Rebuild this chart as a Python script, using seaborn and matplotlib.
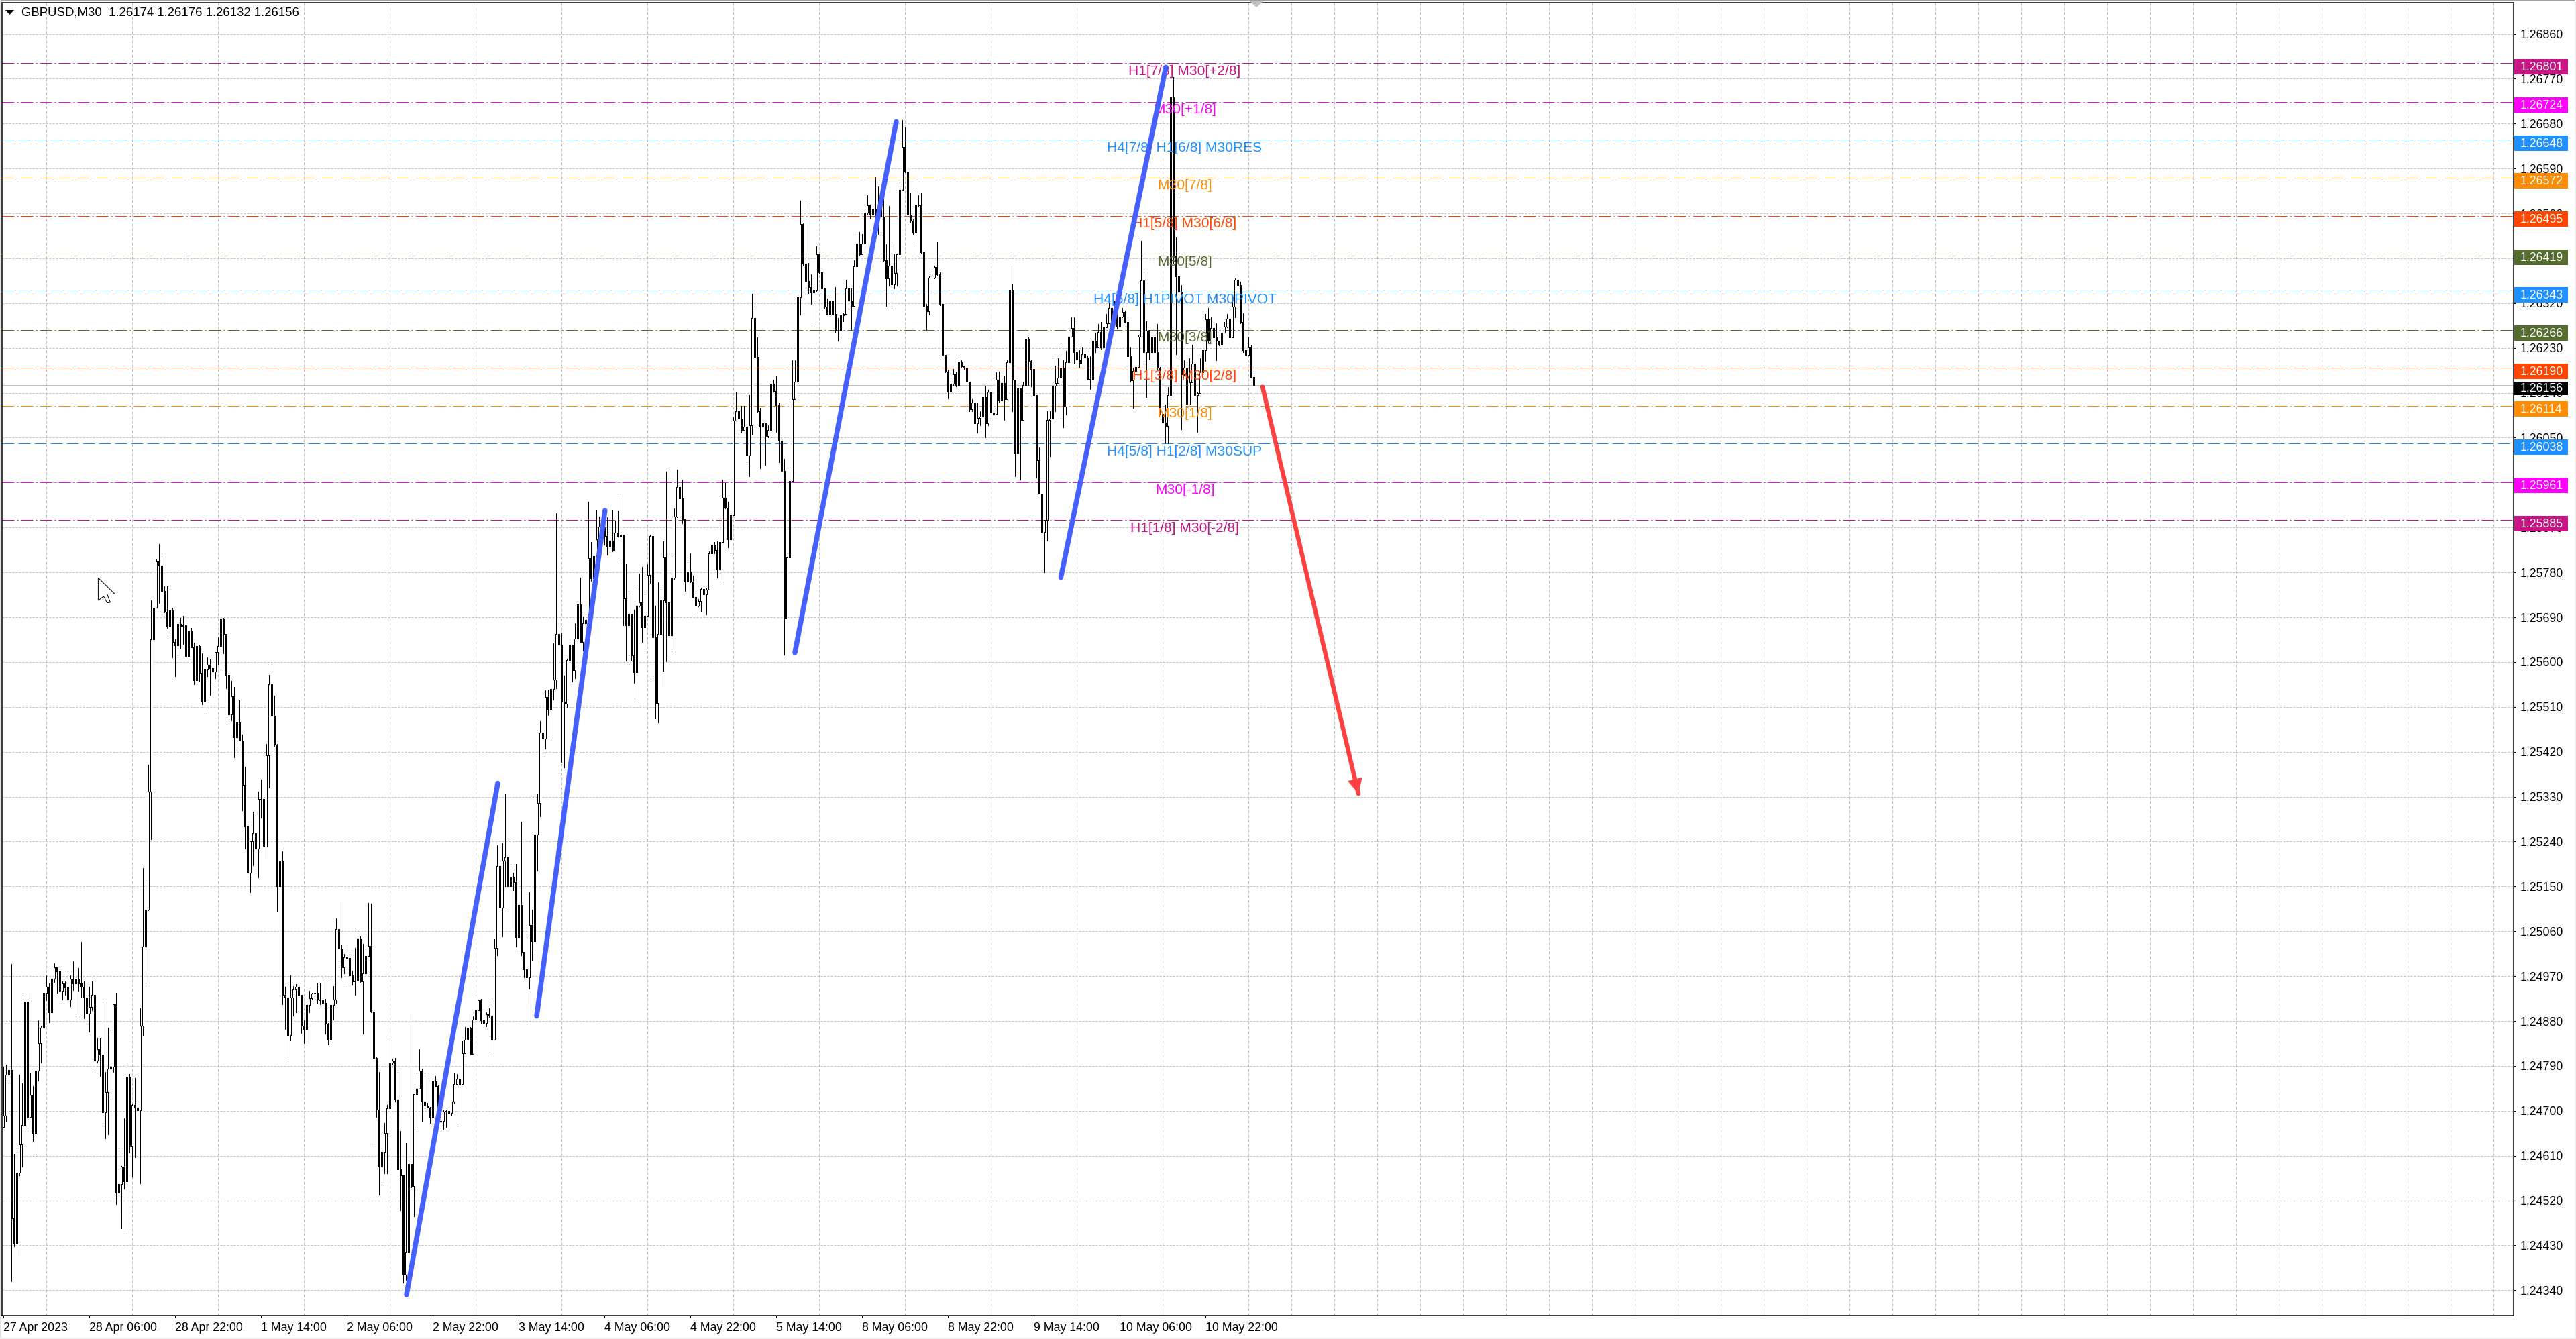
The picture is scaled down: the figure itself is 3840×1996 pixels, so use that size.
import pandas as pd
import numpy as np
import matplotlib
matplotlib.use('Agg')
import matplotlib.pyplot as plt
import seaborn as sns
from matplotlib.patches import Polygon, Rectangle
from matplotlib.transforms import IdentityTransform

# candles, in points (0.00001) above 1.24000
first_open = 667
closes = [
    690,773,782,484,433,576,633,672,919,688, 732,655,780,835,867,936,949,897,965,988,
    979,940,955,947,923,965,956,965,955,949, 927,895,908,933,800,824,813,697,738,784,
    788,914,536,553,588,558,768,628,712,706, 701,871,1029,1103,1340,1645,1709,1802,1793,1742,
    1701,1671,1704,1640,1634,1676,1673,1674,1612,1662, 1630,1564,1632,1579,1520,1586,1595,1588,1581,1620,
    1632,1687,1657,1575,1495,1531,1449,1479,1443,1354, 1270,1177,1241,1257,1226,1325,1326,1230,1413,1555,
    1492,1435,1151,1202,932,927,852,927,943,949, 932,870,864,913,926,935,936,923,922,917,
    875,842,913,923,1065,1026,988,1008,1007,972, 960,961,1045,959,976,1010,1031,899,806,703,
    588,617,655,705,796,801,722,583,571,372, 416,593,549,734,744,780,719,710,707,688,
    759,750,678,680,698,700,696,719,754,765, 754,816,842,867,814,883,901,922,881,876,
    894,891,842,1027,1191,1108,1202,1209,1150,1170, 1158,1048,1113,1018,983,968,1072,1040,1254,1318,
    1458,1447,1530,1506,1546,1565,1656,1635,1521,1517, 1604,1635,1584,1647,1715,1640,1678,1685,1809,1768,
    1812,1846,1872,1870,1853,1832,1844,1823,1860,1853, 1856,1728,1674,1697,1614,1580,1713,1719,1670,1693,
    1775,1853,1650,1518,1656,1724,1810,1720,1654,1770, 1892,1951,1928,1887,1761,1781,1761,1731,1713,1722,
    1746,1736,1745,1818,1836,1825,1786,1841,1930,1910, 1846,1895,2084,2103,2089,2065,2072,2015,2075,2290,
    2212,2103,2072,2079,2054,2065,2158,2144,2115,2044, 1984,1688,1810,1963,2128,2162,2332,2478,2399,2364,
    2352,
    2341,2345,2418,2381,2350,2313,2298,2325,2298,2265, 2265,2295,2298,2350,2325,2314,2394,2439,2418,2439,
    2501,2516,2497,2508,2490,2508,2494,2406,2369,2395, 2357,2380,
    2418,2547,2633,2584,2497,2485,2462,2518,2516,
    2422,2314,2304,2371,2371,2392,2378,2318,2216,2183, 2142,2158,2177,2155,2202,2193,2191,2163,2107,2121,
    2079,2090,2093,2132,2079,2142,2101,2098,2167,2125,2160,
    2128,2202,2346,2167,2019,2149,2086,2156,2248,2204, 2188,2135,2005,1938,1861,1885,
    2085,2089,2154,2160,2171,2189,2112,2201,2253,2270,2222,
    2207,2199,2218,2211,2168,2166,2245,2231,2262,2231, 2272,2280,2311,2283,2305,2273,2293,2302,2282,2214,
    2165,2184,2192,2253,2366,2222,2264,2222,2251,2222, 2190,2098,2080,2074,2135,2733,2414,2374,2342,2177,
    2190,2116,2161,2198,2136,2139,2181,2225,2287,2244, 2270,2251,2244,2237,2261,2273,2289,2251,2313,2367,
    2356,2282,2225,2216,2231,2172,2156,
]
highs = [
    788,793,876,994,613,622,773,755,927,937, 775,750,783,881,871,937,971,955,986,996,
    986,988,960,960,977,971,1000,968,986,1039, 959,932,948,960,966,847,845,919,778,867,
    859,914,937,621,589,685,791,774,714,766, 754,906,1187,1153,1394,1724,1803,1806,1837,1812,
    1752,1752,1747,1708,1645,1680,1689,1693,1640,1665, 1668,1639,1634,1634,1617,1586,1610,1605,1611,1620,
    1650,1689,1689,1657,1575,1562,1550,1523,1523,1455, 1390,1274,1241,1300,1301,1340,1364,1335,1436,1574,
    1596,1533,1436,1230,1221,948,927,971,950,954, 953,933,881,931,940,937,961,957,955,968,
    924,876,968,950,1086,1120,1033,1014,1028,1014, 981,1027,1065,1050,1035,1050,1117,1115,904,808,
    778,678,676,712,845,805,806,778,660,569, 635,894,593,734,772,824,785,771,716,708,
    770,770,751,690,701,701,701,719,775,774, 775,840,868,894,868,890,932,923,924,883,
    897,906,919,1044,1232,1232,1237,1335,1248,1191, 1177,1195,1113,1280,1019,1053,1139,1104,1331,1335,
    1481,1532,1544,1545,1546,1637,1899,1678,1658,1573, 1606,1640,1602,1678,1715,1770,1691,1691,1921,1841,
    1884,1906,1892,1897,1904,1890,1863,1906,1884,1904, 1930,1856,1798,1743,1697,1705,1750,1777,1791,1736,
    1796,1856,1856,1713,1760,1746,1842,1982,1720,1818, 1908,1986,1966,1966,1887,1801,1818,1774,1743,1726,
    1748,1751,1748,1822,1837,1841,1842,1875,1966,1959, 1921,1904,2091,2142,2121,2114,2114,2114,2135,2339,
    2312,2251,2110,2086,2072,2075,2160,2167,2174,2121, 2047,2008,1811,1982,2205,2205,2339,2525,2480,2525,
    2400,
    2378,2357,2434,2420,2381,2351,2329,2329,2325,2352, 2290,2304,2300,2367,2350,2350,2406,2462,2462,2459,
    2536,2536,2518,2516,2573,2554,2536,2557,2438,2515, 2438,2420,
    2420,2554,2687,2672,2589,2540,2488,2547,2536,
    2540,2427,2318,2374,2388,2395,2443,2381,2318,2216, 2186,2170,2188,2182,2216,2205,2195,2184,2163,2128,
    2121,2120,2103,2160,2153,2146,2142,2103,2181,2183,2167,
    2174,2205,2395,2357,2167,2160,2149,2163,2251,2251, 2205,2188,2135,2030,1938,1885,
    2103,2103,2210,2195,2210,2231,2206,2224,2262,2291,2291,
    2237,2226,2231,2219,2215,2214,2249,2260,2278,2282, 2316,2298,2334,2318,2325,2309,2314,2311,2305,2291,
    2231,2190,2192,2255,2445,2383,2284,2266,2282,2253, 2278,2192,2114,2116,2152,2773,2773,2452,2533,2356,
    2206,2197,2210,2237,2201,2141,2210,2300,2298,2311, 2291,2273,2280,2244,2262,2282,2298,2289,2336,2369,
    2405,2363,2300,2226,2251,2236,2176,
]
lows = [
    667,680,757,358,428,410,570,588,665,665, 694,639,613,760,796,850,922,878,883,958,
    937,923,923,932,923,909,942,894,940,927, 886,876,858,901,778,796,770,671,644,653,
    732,778,513,496,464,544,462,616,568,607, 606,554,852,956,1102,1245,1584,1709,1718,1718,
    1700,1669,1658,1610,1572,1614,1627,1636,1611,1595, 1629,1555,1559,1562,1515,1501,1571,1534,1553,1568,
    1595,1586,1617,1547,1486,1483,1409,1423,1442,1302, 1226,1173,1139,1192,1180,1168,1288,1207,1230,1348,
    1418,1432,1099,1148,914,864,803,841,891,897, 897,856,835,835,897,923,931,917,914,913,
    855,833,840,883,917,1000,967,976,957,971, 953,932,957,958,855,974,1009,897,629,688,
    532,553,575,575,706,792,719,564,501,355, 360,416,546,489,667,750,680,708,706,675,
    675,748,676,665,663,667,693,690,714,752, 678,754,816,842,813,814,882,901,876,868,
    869,888,813,844,1012,1107,1049,1150,1101,1067, 1143,1029,1016,1012,968,883,945,1002,1021,1182,
    1290,1414,1426,1493,1451,1525,1547,1377,1400,1388, 1510,1601,1561,1568,1650,1640,1623,1676,1681,1763,
    1767,1809,1846,1842,1836,1815,1829,1822,1823,1851, 1803,1674,1602,1599,1604,1558,1521,1711,1640,1621,
    1691,1759,1571,1487,1479,1551,1583,1601,1606,1626, 1767,1890,1878,1878,1743,1729,1760,1729,1695,1712,
    1702,1734,1695,1745,1818,1818,1770,1765,1842,1908, 1830,1818,1896,2084,2065,2061,2065,2001,1972,2058,
    2209,2101,1989,2030,1996,2051,2051,2142,2061,2001, 1954,1615,1687,1810,1963,2128,2162,2297,2395,2346,
    2340,
    2318,2279,2343,2380,2348,2311,2297,2300,2297,2262, 2244,2258,2283,2297,2311,2267,2314,2394,2416,2418,
    2438,2499,2490,2497,2488,2459,2459,2404,2314,2355, 2314,2350,
    2355,2418,2547,2582,2495,2483,2459,2439,2513,
    2420,2272,2267,2297,2367,2369,2376,2316,2212,2181, 2129,2141,2155,2153,2153,2191,2188,2162,2103,2103,
    2040,2060,2075,2089,2051,2075,2096,2096,2100,2122,2114,
    2086,2128,2202,2103,1973,2016,1966,2084,2156,2156, 2153,2134,1970,1937,1843,1780,
    1843,2013,2089,2103,2160,2092,2071,2096,2199,2254,2199,
    2190,2190,2199,2208,2166,2148,2144,2222,2231,2228, 2231,2271,2283,2273,2282,2269,2271,2291,2281,2213,
    2163,2110,2181,2190,2253,2200,2132,2208,2204,2201, 2188,2096,2036,2040,2038,2132,2400,2217,2333,2067,
    2175,2107,2116,2190,2123,2062,2140,2190,2204,2242, 2244,2249,2206,2235,2232,2260,2271,2249,2251,2291,
    2354,2280,2222,2207,2215,2170,2132,
]

# murrey levels
level_prices = [1.26801, 1.26724, 1.26648, 1.26572, 1.26495, 1.26419, 1.26343,
                1.26266, 1.26190, 1.26114, 1.26038, 1.25961, 1.25885]
level_labels = ['H1[7/8] M30[+2/8]', 'M30[+1/8]', 'H4[7/8] H1[6/8] M30RES', 'M30[7/8]',
                'H1[5/8] M30[6/8]', 'M30[5/8]', 'H4[6/8] H1PIVOT M30PIVOT', 'M30[3/8]',
                'H1[3/8] M30[2/8]', 'M30[1/8]', 'H4[5/8] H1[2/8] M30SUP', 'M30[-1/8]',
                'H1[1/8] M30[-2/8]']
level_colors = ['#C71585', '#FF00FF', '#1E90FF', '#FF8C00', '#FF4500', '#556B2F', '#1E90FF',
                '#556B2F', '#FF4500', '#FF8C00', '#1E90FF', '#FF00FF', '#C71585']

y_ticks = ['1.24340', '1.24430', '1.24520', '1.24610', '1.24700', '1.24790', '1.24880', '1.24970',
           '1.25060', '1.25150', '1.25240', '1.25330', '1.25420', '1.25510', '1.25600', '1.25690',
           '1.25780', '1.25870', '1.25960', '1.26050', '1.26140', '1.26230', '1.26320', '1.26410',
           '1.26500', '1.26590', '1.26680', '1.26770', '1.26860']
x_labels = ['27 Apr 2023', '28 Apr 06:00', '28 Apr 22:00', '1 May 14:00', '2 May 06:00', '2 May 22:00',
            '3 May 14:00', '4 May 06:00', '4 May 22:00', '5 May 14:00', '8 May 06:00', '8 May 22:00',
            '9 May 14:00', '10 May 06:00', '10 May 22:00']

# hand drawn trend lines: bar index, points above 1.24000
up_lines = [((150.25, 331), (184.25, 1357)),
            ((198.75, 890), (224.2, 1904)),
            ((295.0, 1619), (332.75, 2684)),
            ((394.1, 1770), (433.2, 2793))]
down_line = ((469.25, 2152), (505.0, 1336))

current_price = 1.26156
header = 'GBPUSD,M30  1.26174 1.26176 1.26132 1.26156'

W, H = 3840, 1996
BASE = 1.24
PX = 0.72  # one pixel, in points at dpi 100

sns.set_style('white')
plt.rcParams['font.family'] = ['Liberation Sans', 'DejaVu Sans']

assert len(closes) == len(highs) == len(lows)

bars = pd.DataFrame({'close': BASE + np.array(closes) / 1e5,
                     'high': BASE + np.array(highs) / 1e5,
                     'low': BASE + np.array(lows) / 1e5})
bars['open'] = bars['close'].shift(1).fillna(BASE + first_open / 1e5)
bars['bar'] = bars.index

fig = plt.figure(figsize=(W / 100, H / 100), dpi=100)
ax = fig.add_axes([3 / W, 1 - 1961 / H, (3747 - 3) / W, (1961 - 4.3) / H])


def px(x, y):
    return (x, H - y)


# wicks
wicks = bars.melt(id_vars='bar', value_vars=['high', 'low'], value_name='price')
sns.lineplot(data=wicks, x='bar', y='price', units='bar', estimator=None, color='black',
             lw=PX, antialiased=False, zorder=2, legend=False, ax=ax)

# bodies
up = bars['close'] >= bars['open']
ax.bar(bars['bar'], (bars['close'] - bars['open']).abs(), bottom=bars[['open', 'close']].min(axis=1),
       width=0.5, color=np.where(up, 'white', 'black'), edgecolor='black', linewidth=PX,
       antialiased=False, zorder=3)

for price, label, color in zip(level_prices, level_labels, level_colors):
    pattern = (18, 6) if color == '#1E90FF' else (18, 4, 2, 4)
    ax.axhline(price, color=color, lw=PX, dashes=pattern, zorder=1.5)
    ax.annotate(label, xy=(440.25, price), xytext=(0, -12 * PX), textcoords='offset points',
                ha='center', va='center', color=color, fontsize=15.1, zorder=4)

ax.axhline(current_price, color='#c0c0c0', lw=PX, zorder=1.4)

for start, end in up_lines:
    line = pd.DataFrame({'bar': [start[0], end[0]], 'price': [BASE + start[1] / 1e5, BASE + end[1] / 1e5]})
    sns.lineplot(data=line, x='bar', y='price', estimator=None, color='#4560FF', lw=5.4,
                 solid_capstyle='round', zorder=5, legend=False, ax=ax)

line = pd.DataFrame({'bar': [down_line[0][0], down_line[1][0]],
                     'price': [BASE + down_line[0][1] / 1e5, BASE + down_line[1][1] / 1e5]})
sns.lineplot(data=line, x='bar', y='price', estimator=None, color='#FF4040', lw=4.7,
             solid_capstyle='round', zorder=5, legend=False, ax=ax)
ax.annotate('', xy=(down_line[1][0], BASE + down_line[1][1] / 1e5),
            xytext=(down_line[0][0], BASE + down_line[0][1] / 1e5),
            arrowprops=dict(arrowstyle='-|>,head_length=0.4,head_width=0.2', color='#FF4040', lw=1,
                            mutation_scale=36, shrinkA=0, shrinkB=0), zorder=5)

ax.set_xlim(-0.5, 935.5)
ax.set_ylim(1.2686 - (1961 - 50.5) / 74320, 1.2686 + (50.5 - 4.3) / 74320)
ax.set(xlabel='', ylabel='')

ax.yaxis.tick_right()
ax.set_yticks([float(t) for t in y_ticks], y_ticks)
ax.set_xticks(np.arange(len(x_labels)) * 32, x_labels, ha='left')
ax.set_xticks(np.arange(16, 936, 16), minor=True)
ax.tick_params(axis='y', length=3 * PX, width=PX, pad=5, labelsize=12.8, colors='black', right=True)
ax.tick_params(axis='x', which='major', length=3 * PX, width=PX, pad=5, labelsize=12.8, colors='black', bottom=True)
ax.tick_params(axis='x', which='minor', length=0)
ax.set_axisbelow(True)
ax.grid(True, axis='y', which='major', color='#c0c0c0', lw=PX, dashes=(3, 2))
ax.grid(True, axis='x', which='minor', color='#c0c0c0', lw=PX, dashes=(4, 3))
ax.grid(False, axis='x', which='major')
for spine in ax.spines.values():
    spine.set_visible(True)
    spine.set_color('black')
    spine.set_linewidth(1.5 * PX)

fig.canvas.draw()
ident = IdentityTransform()

# price tags on the right
tags = list(zip(level_prices, level_colors)) + [(current_price, 'black')]
for price, color in tags:
    y = ax.transData.transform((0, price))[1]
    h = 20 if color == 'black' else 23
    fig.add_artist(Rectangle((3748, y - 5 - h / 2), 80, h, transform=ident, color=color, lw=0, zorder=5))
    fig.text(3757, y - 6, f'{price:.5f}', transform=ident, color='white', fontsize=12.8,
             ha='left', va='center', zorder=6)

# window furniture
fig.add_artist(Rectangle((0, H - 2), W, 2, transform=ident, color='#a0a0a0', lw=0))
fig.add_artist(Rectangle((0, 0), 2, H, transform=ident, color='#e4e4e4', lw=0))
fig.add_artist(Rectangle((3838, 0), 2, H, transform=ident, color='#f0f0f0', lw=0))
fig.add_artist(Rectangle((0, 0), W, 2, transform=ident, color='#f0f0f0', lw=0))
fig.add_artist(Polygon([px(1863, 2), px(1883, 2), px(1873, 11)], transform=ident, color='#c0c0c0', lw=0, zorder=5))

fig.add_artist(Polygon([px(8, 15), px(21, 15), px(14.5, 22)], transform=ident, color='black', lw=0, zorder=5))
x0, y0 = px(32, 19)
fig.text(x0, y0, header, transform=ident, color='black', fontsize=13.4, ha='left', va='center', zorder=6)

# mouse pointer
pointer = [(146.4, 861.4), (171, 885.4), (159.7, 885.4), (164.3, 897.9), (159.7, 898.6), (154.6, 889), (146.4, 895)]
fig.add_artist(Polygon([px(a, b) for a, b in pointer], transform=ident, facecolor='white',
                       edgecolor='black', lw=PX, zorder=5))

fig.savefig('out.png', dpi=100)
